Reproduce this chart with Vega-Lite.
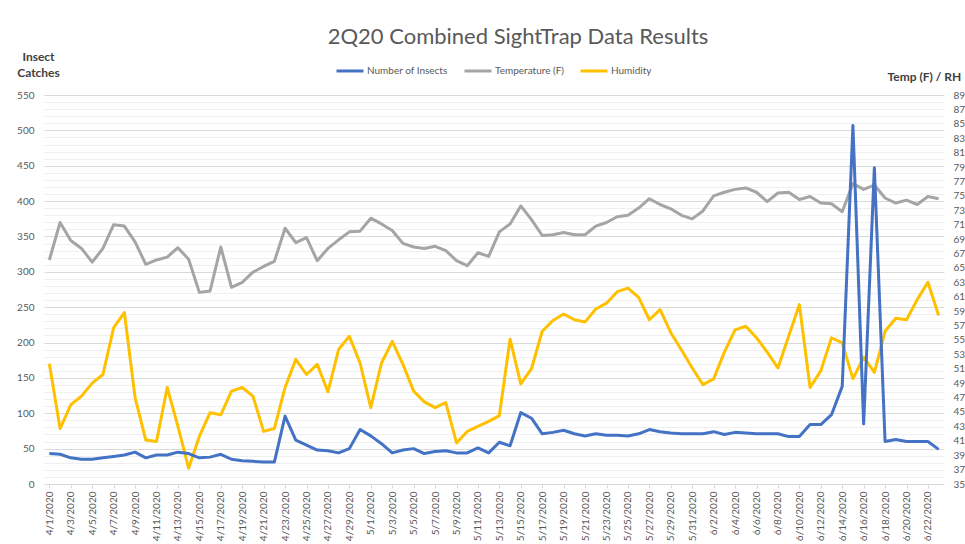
{
  "$schema": "https://vega.github.io/schema/vega-lite/v6.json",
  "width": 900,
  "height": 389,
  "autosize": {"type": "none"},
  "padding": {"left": 44, "top": 95, "right": 21, "bottom": 60},
  "background": "white",
  "config": {"view": {"stroke": null}, "font": "Lato"},
  "title": {"text": "2Q20 Combined SightTrap Data Results", "font": "Lato", "fontSize": 22, "fontWeight": "normal", "color": "#595959", "anchor": "middle", "frame": "group", "dx": 24, "offset": 1},
  "data": {"values": [
    {"date": "2020-04-01", "insects": 43, "Temperature (F)": 66.1, "Humidity": 51.7},
    {"date": "2020-04-02", "insects": 42, "Temperature (F)": 71.3, "Humidity": 42.7},
    {"date": "2020-04-03", "insects": 37, "Temperature (F)": 68.8, "Humidity": 46.0},
    {"date": "2020-04-04", "insects": 35, "Temperature (F)": 67.7, "Humidity": 47.2},
    {"date": "2020-04-05", "insects": 35, "Temperature (F)": 65.8, "Humidity": 49.0},
    {"date": "2020-04-06", "insects": 37, "Temperature (F)": 67.7, "Humidity": 50.2},
    {"date": "2020-04-07", "insects": 39, "Temperature (F)": 71.0, "Humidity": 56.7},
    {"date": "2020-04-08", "insects": 41, "Temperature (F)": 70.8, "Humidity": 58.8},
    {"date": "2020-04-09", "insects": 45, "Temperature (F)": 68.6, "Humidity": 47.0},
    {"date": "2020-04-10", "insects": 37, "Temperature (F)": 65.5, "Humidity": 41.1},
    {"date": "2020-04-11", "insects": 41, "Temperature (F)": 66.1, "Humidity": 40.9},
    {"date": "2020-04-12", "insects": 41, "Temperature (F)": 66.5, "Humidity": 48.4},
    {"date": "2020-04-13", "insects": 45, "Temperature (F)": 67.8, "Humidity": 43.0},
    {"date": "2020-04-14", "insects": 43, "Temperature (F)": 66.2, "Humidity": 37.2},
    {"date": "2020-04-15", "insects": 37, "Temperature (F)": 61.6, "Humidity": 41.6},
    {"date": "2020-04-16", "insects": 38, "Temperature (F)": 61.8, "Humidity": 44.9},
    {"date": "2020-04-17", "insects": 42, "Temperature (F)": 67.9, "Humidity": 44.6},
    {"date": "2020-04-18", "insects": 35, "Temperature (F)": 62.3, "Humidity": 47.9},
    {"date": "2020-04-19", "insects": 33, "Temperature (F)": 63.0, "Humidity": 48.4},
    {"date": "2020-04-20", "insects": 32, "Temperature (F)": 64.4, "Humidity": 47.2},
    {"date": "2020-04-21", "insects": 31, "Temperature (F)": 65.2, "Humidity": 42.3},
    {"date": "2020-04-22", "insects": 31, "Temperature (F)": 65.9, "Humidity": 42.7},
    {"date": "2020-04-23", "insects": 96, "Temperature (F)": 70.5, "Humidity": 48.4},
    {"date": "2020-04-24", "insects": 62, "Temperature (F)": 68.5, "Humidity": 52.3},
    {"date": "2020-04-25", "insects": 55, "Temperature (F)": 69.2, "Humidity": 50.2},
    {"date": "2020-04-26", "insects": 48, "Temperature (F)": 66.0, "Humidity": 51.6},
    {"date": "2020-04-27", "insects": 47, "Temperature (F)": 67.7, "Humidity": 47.8},
    {"date": "2020-04-28", "insects": 44, "Temperature (F)": 68.9, "Humidity": 53.7},
    {"date": "2020-04-29", "insects": 50, "Temperature (F)": 70.0, "Humidity": 55.5},
    {"date": "2020-04-30", "insects": 77, "Temperature (F)": 70.1, "Humidity": 51.8},
    {"date": "2020-05-01", "insects": 68, "Temperature (F)": 71.9, "Humidity": 45.6},
    {"date": "2020-05-02", "insects": 57, "Temperature (F)": 71.1, "Humidity": 51.8},
    {"date": "2020-05-03", "insects": 44, "Temperature (F)": 70.2, "Humidity": 54.8},
    {"date": "2020-05-04", "insects": 48, "Temperature (F)": 68.4, "Humidity": 51.6},
    {"date": "2020-05-05", "insects": 50, "Temperature (F)": 67.9, "Humidity": 47.9},
    {"date": "2020-05-06", "insects": 43, "Temperature (F)": 67.7, "Humidity": 46.4},
    {"date": "2020-05-07", "insects": 46, "Temperature (F)": 68.0, "Humidity": 45.6},
    {"date": "2020-05-08", "insects": 47, "Temperature (F)": 67.4, "Humidity": 46.3},
    {"date": "2020-05-09", "insects": 44, "Temperature (F)": 66.0, "Humidity": 40.7},
    {"date": "2020-05-10", "insects": 44, "Temperature (F)": 65.3, "Humidity": 42.3},
    {"date": "2020-05-11", "insects": 51, "Temperature (F)": 67.1, "Humidity": 43.0},
    {"date": "2020-05-12", "insects": 44, "Temperature (F)": 66.6, "Humidity": 43.7},
    {"date": "2020-05-13", "insects": 59, "Temperature (F)": 70.0, "Humidity": 44.5},
    {"date": "2020-05-14", "insects": 54, "Temperature (F)": 71.1, "Humidity": 55.1},
    {"date": "2020-05-15", "insects": 101, "Temperature (F)": 73.6, "Humidity": 48.9},
    {"date": "2020-05-16", "insects": 93, "Temperature (F)": 71.7, "Humidity": 51.0},
    {"date": "2020-05-17", "insects": 71, "Temperature (F)": 69.5, "Humidity": 56.2},
    {"date": "2020-05-18", "insects": 73, "Temperature (F)": 69.6, "Humidity": 57.7},
    {"date": "2020-05-19", "insects": 76, "Temperature (F)": 69.9, "Humidity": 58.6},
    {"date": "2020-05-20", "insects": 71, "Temperature (F)": 69.6, "Humidity": 57.8},
    {"date": "2020-05-21", "insects": 68, "Temperature (F)": 69.6, "Humidity": 57.5},
    {"date": "2020-05-22", "insects": 71, "Temperature (F)": 70.8, "Humidity": 59.3},
    {"date": "2020-05-23", "insects": 69, "Temperature (F)": 71.3, "Humidity": 60.1},
    {"date": "2020-05-24", "insects": 69, "Temperature (F)": 72.1, "Humidity": 61.7},
    {"date": "2020-05-25", "insects": 68, "Temperature (F)": 72.3, "Humidity": 62.2},
    {"date": "2020-05-26", "insects": 71, "Temperature (F)": 73.3, "Humidity": 60.9},
    {"date": "2020-05-27", "insects": 77, "Temperature (F)": 74.6, "Humidity": 57.8},
    {"date": "2020-05-28", "insects": 74, "Temperature (F)": 73.8, "Humidity": 59.2},
    {"date": "2020-05-29", "insects": 72, "Temperature (F)": 73.2, "Humidity": 56.0},
    {"date": "2020-05-30", "insects": 71, "Temperature (F)": 72.3, "Humidity": 53.6},
    {"date": "2020-05-31", "insects": 71, "Temperature (F)": 71.8, "Humidity": 51.1},
    {"date": "2020-06-01", "insects": 71, "Temperature (F)": 72.9, "Humidity": 48.8},
    {"date": "2020-06-02", "insects": 74, "Temperature (F)": 75.0, "Humidity": 49.6},
    {"date": "2020-06-03", "insects": 70, "Temperature (F)": 75.5, "Humidity": 53.3},
    {"date": "2020-06-04", "insects": 73, "Temperature (F)": 75.9, "Humidity": 56.4},
    {"date": "2020-06-05", "insects": 72, "Temperature (F)": 76.1, "Humidity": 56.9},
    {"date": "2020-06-06", "insects": 71, "Temperature (F)": 75.5, "Humidity": 55.3},
    {"date": "2020-06-07", "insects": 71, "Temperature (F)": 74.2, "Humidity": 53.3},
    {"date": "2020-06-08", "insects": 71, "Temperature (F)": 75.4, "Humidity": 51.1},
    {"date": "2020-06-09", "insects": 67, "Temperature (F)": 75.5, "Humidity": 55.5},
    {"date": "2020-06-10", "insects": 67, "Temperature (F)": 74.5, "Humidity": 59.9},
    {"date": "2020-06-11", "insects": 84, "Temperature (F)": 74.9, "Humidity": 48.4},
    {"date": "2020-06-12", "insects": 84, "Temperature (F)": 74.0, "Humidity": 50.7},
    {"date": "2020-06-13", "insects": 98, "Temperature (F)": 73.9, "Humidity": 55.3},
    {"date": "2020-06-14", "insects": 138, "Temperature (F)": 72.8, "Humidity": 54.6},
    {"date": "2020-06-15", "insects": 507, "Temperature (F)": 76.7, "Humidity": 49.6},
    {"date": "2020-06-16", "insects": 85, "Temperature (F)": 75.9, "Humidity": 52.6},
    {"date": "2020-06-17", "insects": 447, "Temperature (F)": 76.5, "Humidity": 50.5},
    {"date": "2020-06-18", "insects": 60, "Temperature (F)": 74.7, "Humidity": 56.2},
    {"date": "2020-06-19", "insects": 63, "Temperature (F)": 74.0, "Humidity": 58.0},
    {"date": "2020-06-20", "insects": 60, "Temperature (F)": 74.4, "Humidity": 57.8},
    {"date": "2020-06-21", "insects": 60, "Temperature (F)": 73.8, "Humidity": 60.6},
    {"date": "2020-06-22", "insects": 60, "Temperature (F)": 74.9, "Humidity": 63.0},
    {"date": "2020-06-23", "insects": 49, "Temperature (F)": 74.6, "Humidity": 58.4}
  ]},
  "encoding": {
    "x": {"field": "date", "type": "temporal", "title": null,
      "scale": {"type": "utc", "domain": [1585656000000, 1592913600000]},
      "axis": {"values": [1585699200000,1585872000000,1586044800000,1586217600000,1586390400000,1586563200000,1586736000000,1586908800000,1587081600000,1587254400000,1587427200000,1587600000000,1587772800000,1587945600000,1588118400000,1588291200000,1588464000000,1588636800000,1588809600000,1588982400000,1589155200000,1589328000000,1589500800000,1589673600000,1589846400000,1590019200000,1590192000000,1590364800000,1590537600000,1590710400000,1590883200000,1591056000000,1591228800000,1591401600000,1591574400000,1591747200000,1591920000000,1592092800000,1592265600000,1592438400000,1592611200000,1592784000000],
        "labelExpr": "utcFormat(datum.value, '%-m/%-d/%Y')", "labelAngle": -90, "labelFont": "Lato", "labelFontSize": 10, "labelColor": "#595959", "labelPadding": 3, "labelOverlap": false, "labelFlush": false, "labelBound": false, "grid": false, "domain": false, "ticks": true, "tickSize": 4, "tickColor": "#d9d9d9"}}
  },
  "layer": [
    {
      "transform": [{"fold": ["Temperature (F)", "Humidity"], "as": ["series", "val"]}],
      "mark": {"type": "line", "strokeWidth": 3, "strokeJoin": "round"},
      "encoding": {
        "y": {"field": "val", "type": "quantitative", "scale": {"domain": [35, 89], "nice": false, "zero": false},
          "axis": {"orient": "right", "values": [35,37,39,41,43,45,47,49,51,53,55,57,59,61,63,65,67,69,71,73,75,77,79,81,83,85,87,89], "grid": false, "domain": false, "ticks": false, "labelPadding": 9, "labelFont": "Lato", "labelFontSize": 10, "labelColor": "#595959", "labelOverlap": false, "labelFlush": false,
            "title": "Temp (F) / RH", "titleAngle": 0, "titleX": -57, "titleY": -15, "titleAlign": "left", "titleBaseline": "alphabetic", "titleFont": "Lato", "titleFontSize": 12, "titleFontWeight": "bold", "titleColor": "#404040"}},
        "color": {"field": "series", "type": "nominal",
          "scale": {"domain": ["Number of Insects", "Temperature (F)", "Humidity"], "range": ["#4472C4", "#A5A5A5", "#FFC000"]},
          "legend": {"orient": "none", "legendX": 291, "legendY": -39, "direction": "horizontal", "title": null, "symbolType": "stroke", "symbolStrokeWidth": 3, "symbolSize": 729, "labelFont": "Lato", "labelFontSize": 10, "labelColor": "#595959", "columnPadding": 10, "labelOffset": 2}}
      }
    },
    {
      "mark": {"type": "line", "strokeWidth": 3, "strokeJoin": "round"},
      "encoding": {
        "y": {"field": "insects", "type": "quantitative", "scale": {"domain": [0, 550], "nice": false},
          "axis": {"orient": "left", "tickCount": 55, "labelExpr": "datum.value % 50 === 0 ? datum.label : ''", "grid": true, "gridColor": {"condition": {"test": "datum.value % 50 === 0", "value": "#d9d9d9"}, "value": "#efefef"}, "gridWidth": 1, "domain": false, "ticks": false, "labelPadding": 10, "labelFont": "Lato", "labelFontSize": 10, "labelColor": "#595959", "labelOverlap": false, "labelFlush": false,
            "title": ["Insect", "Catches"], "titleAngle": 0, "titleX": -6, "titleY": -35, "titleAlign": "center", "titleBaseline": "alphabetic", "titleLineHeight": 16, "titleFont": "Lato", "titleFontSize": 12, "titleFontWeight": "bold", "titleColor": "#404040"}},
        "color": {"datum": "Number of Insects", "type": "nominal"}
      }
    }
  ],
  "resolve": {"scale": {"y": "independent"}}
}
